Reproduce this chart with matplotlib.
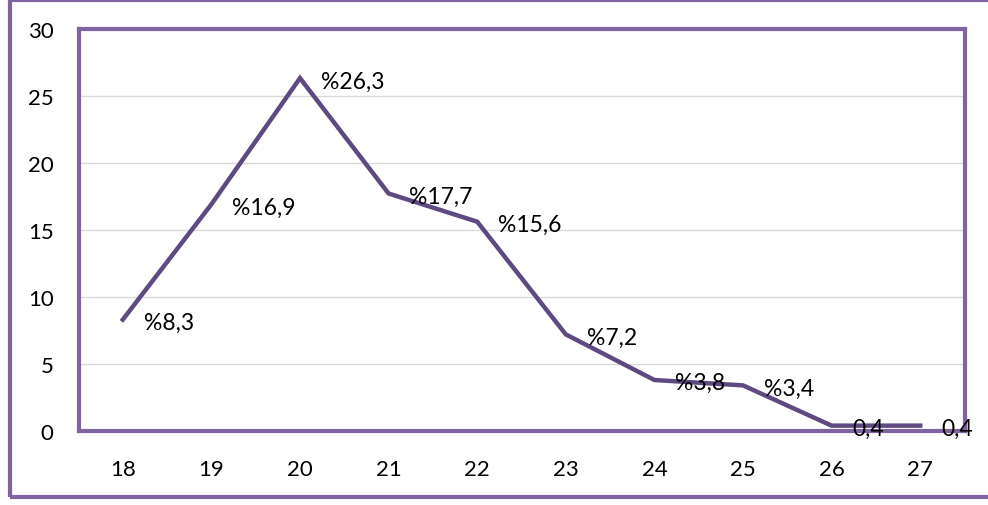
import matplotlib
matplotlib.use("Agg")
import matplotlib.pyplot as plt
from matplotlib.patches import Rectangle

plt.rcParams['font.family'] = ['Lato', 'DejaVu Sans']

# data
ages = [18, 19, 20, 21, 22, 23, 24, 25, 26, 27]
values = [8.3, 16.9, 26.3, 17.7, 15.6, 7.2, 3.8, 3.4, 0.4, 0.4]
labels = ["%8,3", "%16,9", "%26,3", "%17,7", "%15,6", "%7,2", "%3,8", "%3,4", "0,4", "0,4"]
yticks = [0, 5, 10, 15, 20, 25, 30]

frame_col = '#8064A2'
line_col = '#5E4A80'

fig = plt.figure(figsize=(9.88, 5.06), dpi=100)

# outer chart frame (right edge runs off the canvas)
W, H = 988.0, 506.0
fig.patches.append(Rectangle((9.5 / W, (H - 497.5) / H), 1.2, (497.5 - 1.0) / H,
                             transform=fig.transFigure, fill=False,
                             edgecolor=frame_col, linewidth=3, clip_on=False))

ax = fig.add_axes([78.5 / W, (H - 432) / H, (964.5 - 78.5) / W, (432 - 29.5) / H])

ax.plot(ages, values, color=line_col, linewidth=3.2, solid_joinstyle='miter', zorder=3)
for a, v, t in zip(ages, values, labels):
    ax.annotate(t, (a, v), textcoords="offset points", xytext=(15, -2),
                ha='left', va='center', fontsize=16.5, color='black', zorder=4,
                annotation_clip=False)

ax.set_xlim(17.5, 27.5)
ax.set_ylim(0, 30)
ax.set_xticks(ages)
ax.set_yticks(yticks)
ax.yaxis.grid(True, color='#D9D9D9', linewidth=1)
ax.set_axisbelow(True)
ax.tick_params(axis='both', length=0, labelsize=16)
ax.tick_params(axis='x', pad=20)
ax.tick_params(axis='y', pad=18)
for s in ax.spines.values():
    s.set_color(frame_col)
    s.set_linewidth(3)

fig.savefig("out.png", dpi=100)
